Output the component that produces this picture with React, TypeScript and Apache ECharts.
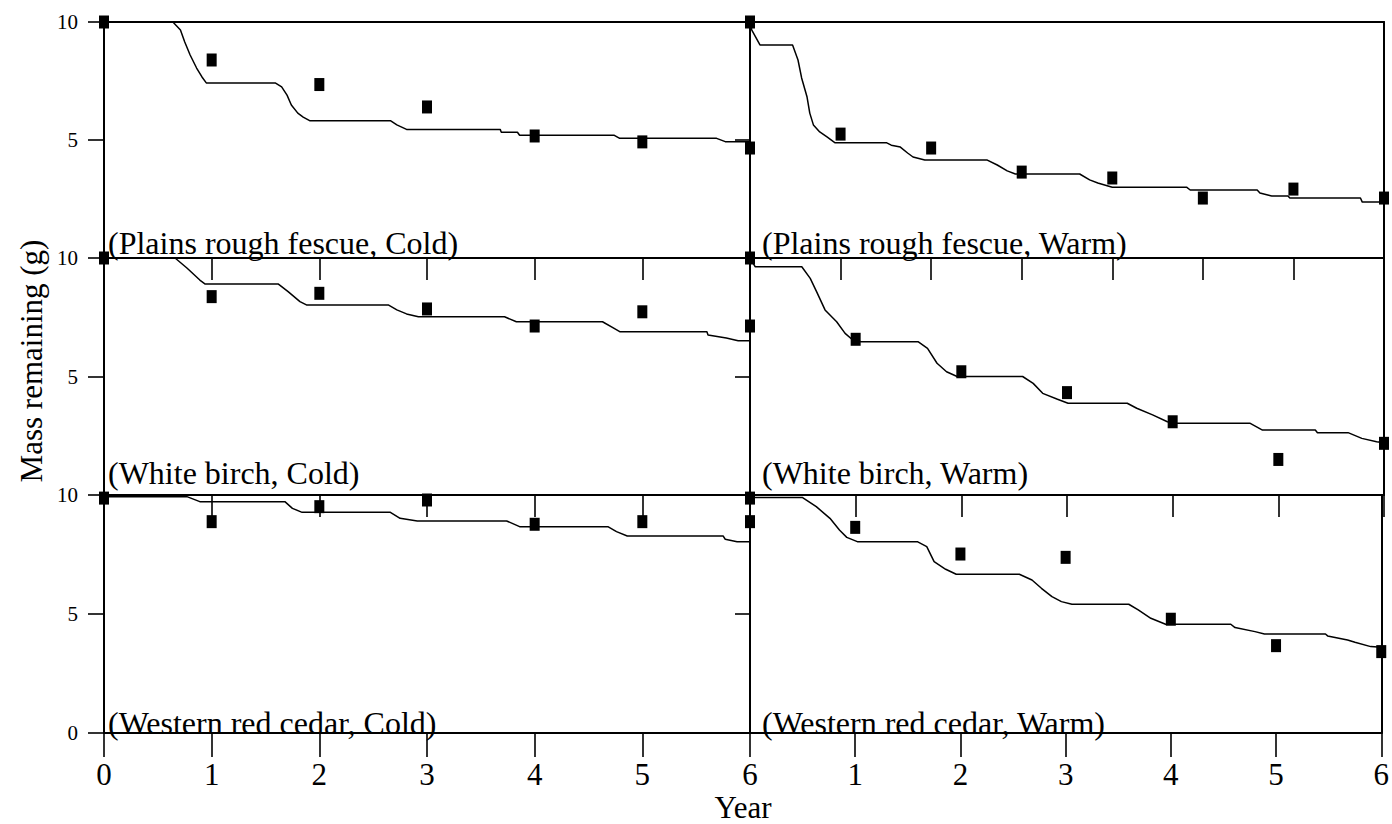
import React, { useEffect, useRef } from "react";
import * as echarts from "echarts";

// ---- Observation years ----
const years6 = [0, 1, 2, 3, 4, 5, 6];
const years7 = [0, 1, 2, 3, 4, 5, 6, 7];

// ---- Observed mass remaining (g) ----
const fescueColdObs = [10, 8.39, 7.35, 6.4, 5.17, 4.92, 4.66];
const fescueWarmObs = [10, 5.25, 4.66, 3.64, 3.39, 2.54, 2.92, 2.54];
const birchColdObs = [10, 8.37, 8.51, 7.85, 7.13, 7.73, 7.13];
const birchWarmObs = [10, 6.57, 5.2, 4.32, 3.09, 1.5, 2.18];
const cedarColdObs = [9.87, 8.88, 9.51, 9.79, 8.77, 8.88, 8.88];
const cedarWarmObs = [9.87, 8.64, 7.52, 7.38, 4.78, 3.67, 3.42];

// ---- Modelled mass remaining (g), [year, mass] ----
const fescueColdModel = [
  [0, 10], [0.64, 10], [0.71, 9.66], [0.75, 9.15], [0.8, 8.6], [0.86, 8.05], [0.91, 7.67], [0.95, 7.42],
  [1.59, 7.42], [1.65, 7.25], [1.7, 6.9], [1.74, 6.48], [1.8, 6.14], [1.85, 5.97], [1.91, 5.82],
  [2.66, 5.82], [2.72, 5.64], [2.81, 5.45],
  [3.68, 5.45], [3.69, 5.33], [3.84, 5.33], [3.86, 5.2],
  [4.74, 5.2], [4.79, 5.07],
  [5.69, 5.07], [5.77, 4.93], [6, 4.93],
];
const fescueWarmModel = [
  [0, 10], [0.02, 9.66], [0.11, 9.03], [0.47, 9.03], [0.53, 8.39], [0.57, 7.63], [0.63, 6.82], [0.66, 6.14],
  [0.7, 5.64], [0.77, 5.34], [0.85, 5.13], [0.94, 4.88],
  [1.51, 4.88], [1.56, 4.78], [1.66, 4.7], [1.74, 4.45], [1.8, 4.28], [1.93, 4.15],
  [2.62, 4.15], [2.73, 3.94], [2.84, 3.69], [2.93, 3.56],
  [3.64, 3.56], [3.75, 3.31], [3.84, 3.18], [4.0, 3.0],
  [4.82, 3.0], [4.86, 2.88],
  [5.6, 2.88], [5.63, 2.75], [5.76, 2.63], [5.94, 2.63], [5.96, 2.54],
  [6.74, 2.54], [6.76, 2.37], [7, 2.37],
];
const birchColdModel = [
  [0, 10], [0.66, 10], [0.77, 9.58], [0.89, 9.07], [0.94, 8.9],
  [1.62, 8.9], [1.71, 8.58], [1.82, 8.16], [1.88, 8.02],
  [2.64, 8.02], [2.72, 7.81], [2.81, 7.64], [2.92, 7.52],
  [3.72, 7.52], [3.83, 7.31],
  [4.63, 7.31], [4.73, 7.05], [4.79, 6.89],
  [5.6, 6.89], [5.61, 6.75], [5.78, 6.62], [5.89, 6.51], [6, 6.51],
];
const birchWarmModel = [
  [0, 10], [0.05, 9.63], [0.49, 9.63], [0.57, 9.14], [0.63, 8.58], [0.71, 7.81], [0.82, 7.31], [0.9, 6.82],
  [0.97, 6.55], [1.05, 6.47],
  [1.59, 6.47], [1.68, 6.19], [1.77, 5.56], [1.86, 5.2], [1.96, 5.0],
  [2.58, 5.0], [2.68, 4.71], [2.77, 4.29], [2.91, 4.04], [3.01, 3.87],
  [3.57, 3.87], [3.66, 3.66], [3.81, 3.38], [3.95, 3.09], [4.04, 3.03],
  [4.73, 3.03], [4.85, 2.74],
  [5.35, 2.74], [5.37, 2.63],
  [5.66, 2.63], [5.79, 2.39], [5.93, 2.25], [6, 2.2],
];
const cedarColdModel = [
  [0, 9.93], [0.77, 9.93], [0.89, 9.72],
  [1.68, 9.72], [1.75, 9.44], [1.84, 9.27],
  [2.66, 9.27], [2.75, 9.02], [2.91, 8.91],
  [3.74, 8.91], [3.86, 8.67],
  [4.68, 8.67], [4.76, 8.46], [4.86, 8.28],
  [5.75, 8.28], [5.77, 8.14], [5.88, 8.04], [6, 8.04],
];
const cedarWarmModel = [
  [0, 9.89], [0.5, 9.89], [0.63, 9.51], [0.76, 9.02], [0.85, 8.53], [0.92, 8.22], [1.02, 8.04],
  [1.59, 8.04], [1.68, 7.83], [1.75, 7.2], [1.86, 6.88], [1.96, 6.67],
  [2.56, 6.67], [2.68, 6.43], [2.77, 6.08], [2.87, 5.73], [2.96, 5.52], [3.06, 5.41],
  [3.6, 5.41], [3.69, 5.17], [3.81, 4.82], [3.95, 4.57],
  [4.57, 4.57], [4.61, 4.43], [4.8, 4.26], [4.89, 4.16],
  [5.47, 4.16], [5.49, 4.08], [5.68, 3.91], [5.75, 3.81], [5.9, 3.63], [6, 3.6],
];

// ---- Text ----
const panelTitles = [
  "(Plains rough fescue, Cold)",
  "(Plains rough fescue, Warm)",
  "(White birch, Cold)",
  "(White birch, Warm)",
  "(Western red cedar, Cold)",
  "(Western red cedar, Warm)",
];
const xAxisTitle = "Year";
const yAxisTitle = "Mass remaining (g)";

// Panels in reading order: row by row, left column then right column
const panelYears = [years6, years7, years6, years6, years6, years6];
const panelObs = [fescueColdObs, fescueWarmObs, birchColdObs, birchWarmObs, cedarColdObs, cedarWarmObs];
const panelModel = [fescueColdModel, fescueWarmModel, birchColdModel, birchWarmModel, cedarColdModel, cedarWarmModel];
const panelXMax = [6, 7, 6, 6, 6, 6];

const SERIF = "'Liberation Serif', 'Times New Roman', Times, serif";
const BLACK = "#000";

const COL_LEFT = [104, 750];
const COL_WIDTH = [646, 634];
const ROW_TOP = [22, 258, 495];
const ROW_HEIGHT = [236, 237, 238];
const TITLE_X = [108, 762];
const TITLE_BASELINE = [254, 484, 734];

function buildOption() {
  const grid: any[] = [];
  const xAxis: any[] = [];
  const yAxis: any[] = [];
  const series: any[] = [];
  const graphic: any[] = [];

  for (let i = 0; i < 6; i++) {
    const row = Math.floor(i / 2);
    const col = i % 2;
    const isBottom = row === 2;
    grid.push({
      left: COL_LEFT[col],
      top: ROW_TOP[row],
      width: COL_WIDTH[col],
      height: ROW_HEIGHT[row],
      containLabel: false,
    });
    xAxis.push({
      type: "value",
      gridIndex: i,
      min: 0,
      max: panelXMax[i],
      interval: 1,
      position: "bottom",
      axisLine: { show: true, onZero: false, lineStyle: { color: BLACK, width: 2 } },
      axisTick: { show: true, inside: false, length: isBottom ? 24 : 22, lineStyle: { color: BLACK, width: 1.6 } },
      axisLabel: {
        show: isBottom,
        showMinLabel: col === 0,
        margin: 26,
        color: BLACK,
        fontFamily: SERIF,
        fontSize: 31,
      },
      splitLine: { show: false },
    });
    yAxis.push({
      type: "value",
      gridIndex: i,
      min: 0,
      max: 10,
      interval: 5,
      position: "left",
      axisLine: { show: true, onZero: false, lineStyle: { color: BLACK, width: 2 } },
      axisTick: { show: true, inside: false, length: col === 0 ? 16 : 15, lineStyle: { color: BLACK, width: 1.6 } },
      axisLabel: {
        show: col === 0,
        showMinLabel: isBottom,
        margin: 26,
        color: BLACK,
        fontFamily: SERIF,
        fontSize: 21,
      },
      splitLine: { show: false },
    });

    series.push({
      type: "line",
      xAxisIndex: i,
      yAxisIndex: i,
      data: panelModel[i],
      symbol: "none",
      showSymbol: false,
      clip: false,
      lineStyle: { color: BLACK, width: 1.5, opacity: 1 },
      z: 3,
    });
    series.push({
      type: "scatter",
      xAxisIndex: i,
      yAxisIndex: i,
      data: panelYears[i].map((yr, k) => [yr, panelObs[i][k]]),
      symbol: "rect",
      symbolSize: [10, 13],
      clip: false,
      itemStyle: { color: BLACK, opacity: 1 },
      z: 4,
    });

    graphic.push({
      type: "text",
      x: TITLE_X[col],
      y: TITLE_BASELINE[row] - 32 * 0.3375,
      style: {
        text: panelTitles[i],
        font: `32px ${SERIF}`,
        fill: BLACK,
        align: "left",
        verticalAlign: "middle",
      },
      z: 10,
    });
  }

  // Frame: top edge of the upper row
  [0, 1].forEach((g) => {
    xAxis.push({
      type: "value",
      gridIndex: g,
      min: 0,
      max: panelXMax[g],
      position: "top",
      axisLine: { show: true, onZero: false, lineStyle: { color: BLACK, width: 2 } },
      axisTick: { show: false },
      axisLabel: { show: false },
      splitLine: { show: false },
    });
  });
  // Frame: right edge of the right column
  [1, 3, 5].forEach((g) => {
    yAxis.push({
      type: "value",
      gridIndex: g,
      min: 0,
      max: 10,
      position: "right",
      axisLine: { show: true, onZero: false, lineStyle: { color: BLACK, width: 2 } },
      axisTick: { show: false },
      axisLabel: { show: false },
      splitLine: { show: false },
    });
  });

  graphic.push({
    type: "text",
    x: 743,
    y: 818 - 31 * 0.3375,
    style: {
      text: xAxisTitle,
      font: `31px ${SERIF}`,
      fill: BLACK,
      align: "center",
      verticalAlign: "middle",
    },
  });
  graphic.push({
    type: "text",
    x: 31,
    y: 361,
    rotation: Math.PI / 2,
    style: {
      text: yAxisTitle,
      font: `31px ${SERIF}`,
      fill: BLACK,
      align: "center",
      verticalAlign: "middle",
    },
  });

  return {
    animation: false,
    backgroundColor: "#fff",
    grid,
    xAxis,
    yAxis,
    series,
    graphic,
  };
}

export default function App() {
  const ref = useRef<HTMLDivElement | null>(null);

  useEffect(() => {
    if (!ref.current) return;
    const chart = echarts.init(ref.current, undefined, { renderer: "svg" });
    chart.setOption(buildOption() as any);
    return () => {
      chart.dispose();
    };
  }, []);

  return (
    <div
      ref={ref}
      style={{ position: "absolute", left: 0, top: 0, width: 1392, height: 824, background: "#fff" }}
    />
  );
}
